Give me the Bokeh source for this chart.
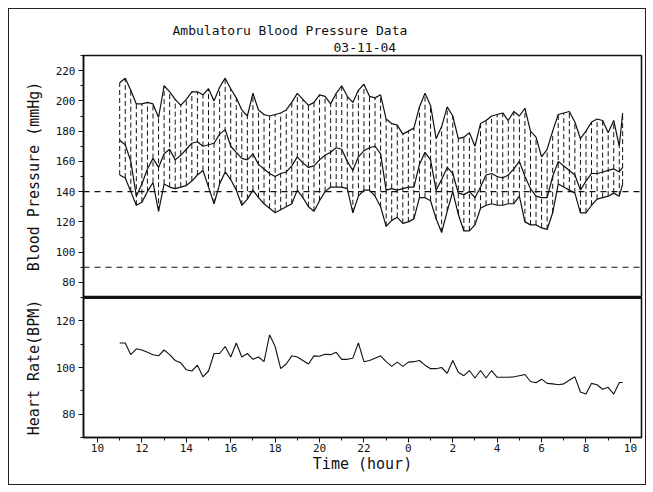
from bokeh.plotting import figure
from bokeh.layouts import column
from bokeh.models import Span, Title, FixedTicker, Range1d, ColumnDataSource
from bokeh.embed import file_html
from bokeh.resources import INLINE

# ---- data ----
hours = [11.0, 11.25, 11.5, 11.75, 12.0, 12.25, 12.5, 12.75, 13.0, 13.25, 13.5, 13.75,
         14.0, 14.25, 14.5, 14.75, 15.0, 15.25, 15.5, 15.75, 16.0, 16.25, 16.5, 16.75,
         17.0, 17.25, 17.5, 17.75, 18.0, 18.25, 18.5, 18.75, 19.0, 19.25, 19.5, 19.75,
         20.0, 20.25, 20.5, 20.75, 21.0, 21.25, 21.5, 21.75, 22.0, 22.25, 22.5, 22.75,
         23.0, 23.25, 23.5, 23.75, 24.0, 24.25, 24.5, 24.75, 25.0, 25.25, 25.5, 25.75,
         26.0, 26.25, 26.5, 26.75, 27.0, 27.25, 27.5, 27.75, 28.0, 28.25, 28.5, 28.75,
         29.0, 29.25, 29.5, 29.75, 30.0, 30.25, 30.5, 30.75, 31.0, 31.25, 31.5, 31.75,
         32.0, 32.25, 32.5, 32.75, 33.0, 33.25, 33.5, 33.65]

systolic = [212, 215, 207, 198, 198, 199, 198, 189, 210, 206, 201, 197,
            201, 206, 206, 204, 208, 200, 209, 215, 208, 202, 194, 190,
            205, 194, 191, 190, 191, 192, 194, 199, 205, 201, 197, 199,
            204, 203, 198, 205, 210, 203, 199, 207, 211, 203, 202, 204,
            188, 185, 184, 178, 180, 182, 196, 205, 197, 175, 183, 196,
            190, 175, 176, 179, 170, 185, 187, 190, 191, 192, 187, 193,
            190, 195, 180, 176, 163, 168, 180, 191, 192, 193, 186, 175,
            180, 186, 188, 187, 179, 187, 170, 192]

diastolic = [151, 149, 140, 131, 133, 140, 146, 127, 145, 143, 142, 143,
             144, 147, 151, 154, 143, 132, 145, 153, 148, 141, 131, 135,
             141, 136, 132, 129, 126, 128, 130, 132, 141, 136, 130, 127,
             134, 140, 143, 143, 143, 142, 126, 137, 141, 141, 137, 130,
             117, 121, 123, 119, 120, 122, 136, 136, 134, 122, 113, 127,
             140, 125, 114, 114, 118, 129, 131, 132, 131, 131, 132, 132,
             137, 120, 118, 118, 116, 115, 126, 145, 143, 141, 139, 126,
             126, 131, 135, 136, 137, 139, 137, 145]

mean_bp = [174, 171, 160, 137, 145, 155, 162, 156, 165, 168, 161, 164,
           168, 172, 173, 170, 171, 172, 178, 181, 170, 166, 162, 161,
           165, 158, 155, 152, 150, 152, 153, 157, 163, 159, 156, 157,
           161, 164, 166, 169, 168, 160, 154, 163, 167, 169, 170, 165,
           141, 142, 141, 142, 143, 143, 158, 166, 161, 141, 148, 156,
           152, 139, 138, 140, 136, 143, 151, 152, 150, 149, 151, 155,
           160, 150, 142, 137, 136, 136, 150, 160, 157, 154, 151, 141,
           147, 152, 152, 153, 154, 155, 153, 156]

heart_rate = [110.5, 110.5, 105.5, 108, 107.5, 106.5, 105.5, 105, 107.5, 105.5, 103, 102,
              99, 98.5, 101, 96, 98.5, 106, 106, 109, 104.5, 110.5, 104.5, 106,
              103.5, 104.5, 102.5, 114, 109, 99.5, 101.5, 105, 104.5, 103, 101.5, 105,
              104.8, 105.7, 105.5, 106.5, 103.5, 103.5, 104, 110.5, 102.5, 103, 104, 105,
              102.5, 100.5, 102.3, 100.5, 102.3, 102.5, 103, 101, 99.5, 99.5, 100, 97.5,
              103, 98, 96.5, 98.7, 95.5, 98.7, 95.5, 98.7, 95.8, 95.8, 95.8, 96,
              96.5, 97, 94, 93.5, 95, 93.2, 93, 92.6, 93, 94.5, 96, 89.5,
              88.6, 93.2, 92.6, 90.7, 91.5, 88.6, 93.6, 93.6]

x_ticks = [10, 12, 14, 16, 18, 20, 22, 24, 26, 28, 30, 32, 34]
x_tick_labels = ["10", "12", "14", "16", "18", "20", "22", "0", "2", "4", "6", "8", "10"]
x_minor = [11, 13, 15, 17, 19, 21, 23, 25, 27, 29, 31, 33]
bp_ticks = [80, 100, 120, 140, 160, 180, 200, 220]
bp_minor = [70, 90, 110, 130, 150, 170, 190, 210, 230]
hr_ticks = [80, 100, 120]
hr_minor = [70, 90, 110, 130]
bp_ref_lines = [140, 90]

title_text = "Ambulatoru Blood Pressure Data"
date_text = "03-11-04"

FONT = "DejaVu Sans Mono"
INK = "#111111"

src = ColumnDataSource(dict(t=hours, sys=systolic, dia=diastolic, mean=mean_bp, hr=heart_rate))

xr = Range1d(9.37, 34.5)

# ---- top panel: blood pressure ----
p1 = figure(width=636, height=288, x_range=xr, y_range=Range1d(70, 230),
            output_backend="svg", toolbar_location=None,
            min_border_left=74, min_border_right=4, min_border_top=46, min_border_bottom=0)
p1.add_layout(Title(text=date_text, align="left", offset=250, text_font=FONT,
                    text_font_size="13px", text_font_style="normal", text_color=INK,
                    standoff=7), "above")
p1.add_layout(Title(text=title_text, align="left", offset=89, text_font=FONT,
                    text_font_size="13px", text_font_style="normal", text_color=INK,
                    standoff=0), "above")

p1.segment(x0="t", y0="dia", x1="t", y1="sys", source=src, line_color=INK,
           line_width=1.0, line_dash="5 3")
p1.line("t", "sys", source=src, line_color=INK, line_width=1.2)
p1.line("t", "dia", source=src, line_color=INK, line_width=1.2)
p1.line("t", "mean", source=src, line_color=INK, line_width=1.2)
for v in bp_ref_lines:
    p1.add_layout(Span(location=v, dimension="width", line_color=INK,
                       line_width=1.2, line_dash="6 5"))

p1.xaxis.visible = False
p1.yaxis.ticker = FixedTicker(ticks=bp_ticks, minor_ticks=bp_minor)
p1.yaxis.axis_label = "Blood Pressure (mmHg)"

# ---- bottom panel: heart rate ----
p2 = figure(width=636, height=187, x_range=xr, y_range=Range1d(70, 130),
            output_backend="svg", toolbar_location=None,
            min_border_left=74, min_border_right=4, min_border_top=0, min_border_bottom=47)
p2.line("t", "hr", source=src, line_color=INK, line_width=1.1)
p2.add_layout(Span(location=130, dimension="width", line_color=INK, line_width=3))
p2.xaxis.ticker = FixedTicker(ticks=x_ticks, minor_ticks=x_minor)
p2.xaxis.major_label_overrides = dict(zip(x_ticks, x_tick_labels))
p2.xaxis.axis_label = "Time (hour)"
p2.yaxis.ticker = FixedTicker(ticks=hr_ticks, minor_ticks=hr_minor)
p2.yaxis.axis_label = "Heart Rate(BPM)"

for p in (p1, p2):
    p.grid.visible = False
    p.outline_line_color = INK
    p.outline_line_width = 1.6
    p.outline_line_alpha = 1.0
    p.background_fill_color = "white"
    p.border_fill_color = "white"
    for ax in p.axis:
        ax.axis_line_color = INK
        ax.axis_line_width = 1.5
        ax.major_tick_line_color = INK
        ax.minor_tick_line_color = INK
        ax.major_tick_in = 0
        ax.major_tick_out = 5
        ax.minor_tick_in = 0
        ax.minor_tick_out = 3
        ax.major_label_text_font = FONT
        ax.major_label_text_font_size = "11px"
        ax.major_label_text_color = INK
        ax.axis_label_text_font = FONT
        ax.axis_label_text_font_size = "15px"
        ax.axis_label_text_font_style = "normal"
        ax.axis_label_text_color = INK
    p.yaxis.major_label_standoff = 3
    p.yaxis.axis_label_standoff = 10

p2.xaxis.major_label_standoff = 1
p2.xaxis.axis_label_standoff = 0

layout = column(p1, p2, spacing=0,
                styles={"border": "1.5px solid #222", "margin-left": "8px", "margin-top": "8px"})

open("out.html", "w").write(file_html(layout, INLINE))
